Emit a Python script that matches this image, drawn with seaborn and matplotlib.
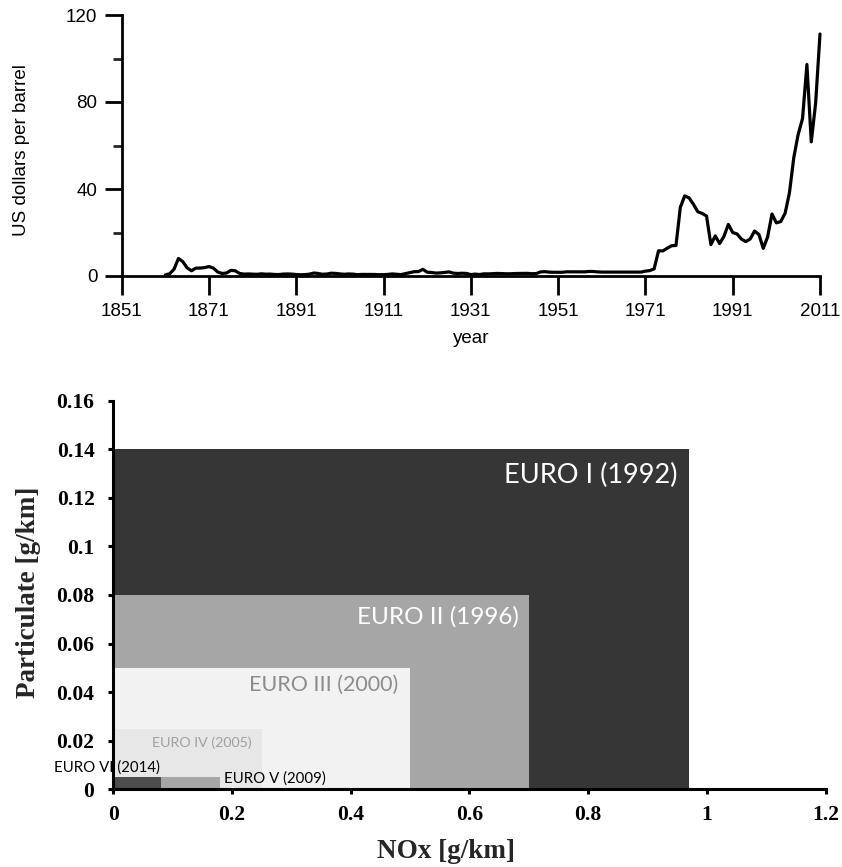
import matplotlib
matplotlib.use("Agg")
import matplotlib.pyplot as plt
from matplotlib.ticker import FixedLocator
import seaborn as sns
import pandas as pd

# ---------------- data: crude oil price (US$ per barrel) ----------------
years = list(range(1861, 2012))
oil_price = [
    0.49, 1.05, 3.15, 8.06, 6.59, 3.74, 2.41, 3.63, 3.64, 3.86,   # 1861-1870
    4.34, 3.64, 1.83, 1.17, 1.35, 2.56, 2.42, 1.19, 0.86, 0.95,   # 1871-1880
    0.86, 0.78, 1.00, 0.84, 0.88, 0.71, 0.67, 0.88, 0.94, 0.87,   # 1881-1890
    0.67, 0.56, 0.64, 0.84, 1.36, 1.18, 0.79, 0.91, 1.29, 1.19,   # 1891-1900
    0.96, 0.80, 0.94, 0.86, 0.62, 0.73, 0.72, 0.72, 0.70, 0.61,   # 1901-1910
    0.61, 0.74, 0.95, 0.81, 0.64, 1.10, 1.56, 1.98, 2.01, 3.07,   # 1911-1920
    1.73, 1.61, 1.34, 1.43, 1.68, 1.88, 1.30, 1.17, 1.27, 1.19,   # 1921-1930
    0.65, 0.87, 0.67, 1.00, 0.97, 1.09, 1.18, 1.13, 1.02, 1.02,   # 1931-1940
    1.14, 1.19, 1.20, 1.21, 1.05, 1.12, 1.90, 1.99, 1.78, 1.71,   # 1941-1950
    1.71, 1.71, 1.93, 1.93, 1.93, 1.93, 1.90, 2.08, 2.08, 1.90,   # 1951-1960
    1.80, 1.80, 1.80, 1.80, 1.80, 1.80, 1.80, 1.80, 1.80, 1.80,   # 1961-1970
    2.24, 2.48, 3.29, 11.58, 11.53, 12.80, 13.92, 14.02, 31.61, 36.83,  # 1971-1980
    35.93, 32.97, 29.55, 28.78, 27.56, 14.43, 18.44, 14.92, 18.23, 23.73,  # 1981-1990
    20.00, 19.32, 16.97, 15.82, 17.02, 20.67, 19.09, 12.72, 17.97, 28.50,  # 1991-2000
    24.44, 25.02, 28.83, 38.27, 54.52, 65.14, 72.39, 97.26, 61.67, 79.50,  # 2001-2010
    111.26,                                                         # 2011
]
year_ticks = [1851, 1871, 1891, 1911, 1931, 1951, 1971, 1991, 2011]
price_ticks = [0, 40, 80, 120]
price_minor_ticks = [20, 60, 100]

# ---------------- data: EURO emission standards ----------------
standards = ["EURO I (1992)", "EURO II (1996)", "EURO III (2000)",
             "EURO IV (2005)", "EURO V (2009)", "EURO VI (2014)"]
nox_limit = [0.97, 0.70, 0.50, 0.25, 0.18, 0.08]
pm_limit = [0.14, 0.08, 0.05, 0.025, 0.005, 0.005]
box_colors = ["#363636", "#a6a6a6", "#f2f2f2", "#e7e7e7", "#a6a6a6", "#4d4d4d"]
nox_ticks = [0, 0.2, 0.4, 0.6, 0.8, 1.0, 1.2]
nox_ticklabels = ["0", "0.2", "0.4", "0.6", "0.8", "1", "1.2"]
pm_ticks = [0, 0.02, 0.04, 0.06, 0.08, 0.10, 0.12, 0.14, 0.16]
pm_ticklabels = ["0", "0.02", "0.04", "0.06", "0.08", "0.1", "0.12", "0.14", "0.16"]

sns.set_style("ticks")
plt.rcParams["font.family"] = ["Liberation Sans", "DejaVu Sans"]

W, H = 842, 867
fig = plt.figure(figsize=(W / 100, H / 100), dpi=100)

def axes_px(left, top, right, bottom):
    return fig.add_axes([left / W, 1 - bottom / H, (right - left) / W, (bottom - top) / H])

# ================= top chart =================
ax1 = axes_px(121.7, 15, 820, 276)
oil_df = pd.DataFrame({"year": years, "price": oil_price})
sns.lineplot(data=oil_df, x="year", y="price", ax=ax1, color="black",
             linewidth=2.3, clip_on=False)
ax1.set_xlim(1851, 2011)
ax1.set_ylim(0, 120)
ax1.set_xticks(year_ticks)
ax1.set_yticks(price_ticks)
ax1.yaxis.set_minor_locator(FixedLocator(price_minor_ticks))
for s in ["top", "right"]:
    ax1.spines[s].set_visible(False)
for s in ["left", "bottom"]:
    ax1.spines[s].set_linewidth(2)
    ax1.spines[s].set_color("black")
ax1.tick_params(axis="x", which="major", direction="out", length=13.5, width=2,
                labelsize=13.5, pad=6, colors="black")
ax1.tick_params(axis="y", which="major", direction="out", length=12.5, width=2,
                labelsize=13.5, pad=5, colors="black")
ax1.tick_params(axis="y", which="minor", direction="out", length=6.5, width=2)
ax1.set_xlabel("year", fontsize=13.5, color="black")
ax1.xaxis.set_label_coords(0.5, -0.205)
ax1.set_ylabel("US dollars per barrel", fontsize=13.5, color="black")
ax1.yaxis.set_label_coords(-0.131, 0.483)
ax1.patch.set_alpha(0)

# ================= bottom chart =================
ax2 = axes_px(113.3, 400.5, 825.5, 789.3)
ax2.bar([0] * len(nox_limit), pm_limit, width=nox_limit, align="edge",
        color=box_colors, linewidth=0, zorder=2)
ax2.set_xlim(0, 1.2)
ax2.set_ylim(0, 0.16)
ax2.set_xticks(nox_ticks)
ax2.set_xticklabels(nox_ticklabels)
ax2.set_yticks(pm_ticks)
ax2.set_yticklabels(pm_ticklabels)
for s in ["top", "right"]:
    ax2.spines[s].set_visible(False)
for s in ["left", "bottom"]:
    ax2.spines[s].set_linewidth(2.2)
    ax2.spines[s].set_color("black")
    ax2.spines[s].set_zorder(5)
ax2.tick_params(axis="x", direction="out", length=3.6, width=2.2, pad=7.5, colors="black")
ax2.tick_params(axis="y", direction="out", length=3.6, width=2.2, pad=10, colors="black")
for lab in ax2.get_xticklabels() + ax2.get_yticklabels():
    lab.set_family(["Liberation Serif", "DejaVu Serif"])
    lab.set_fontweight("bold")
    lab.set_fontsize(15.5)
ax2.set_xlabel("NOx [g/km]", fontsize=19.5, fontweight="bold",
               family=["Liberation Serif", "DejaVu Serif"])
ax2.xaxis.set_label_coords(0.467, -0.128)
ax2.set_ylabel("Particulate [g/km]", fontsize=19.5, fontweight="bold",
               family=["Liberation Serif", "DejaVu Serif"])
ax2.yaxis.set_label_coords(-0.1015, 0.507)

label_font = ["Lato", "DejaVu Sans"]
# (x, y, ha, colour, size) for each standard's label
label_style = [
    (0.950, 0.1293, "right", "white", 19.5),
    (0.684, 0.0710, "right", "white", 17.5),
    (0.480, 0.0429, "right", "#8c8c8c", 15.5),
    (0.233, 0.0193, "right", "#a0a0a0", 10.3),
    (0.1865, 0.0045, "left", "black", 10.8),
    (-0.0994, 0.0089, "left", "black", 10.8),
]
for name, (x, y, ha, c, fs) in zip(standards, label_style):
    ax2.text(x, y, name, ha=ha, va="center", color=c, fontsize=fs,
             family=label_font, zorder=6, clip_on=False)

fig.savefig("out.png", dpi=100)
